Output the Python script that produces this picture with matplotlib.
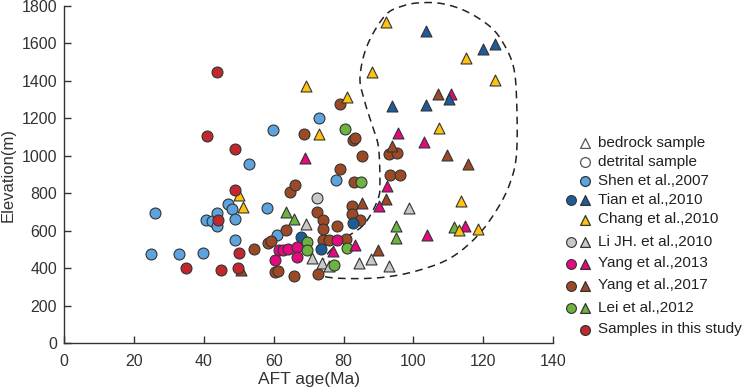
import numpy as np
import matplotlib
matplotlib.use("Agg")
import matplotlib.pyplot as plt

plt.rcParams['font.family'] = ['Liberation Sans', 'DejaVu Sans']

# ---- data (AFT age in Ma, elevation in m) ----
shen_x = [24.8, 25.9, 32.9, 39.9, 40.7, 42.3, 43.9, 43.9, 46.8, 48.1, 48.9, 48.9, 53.0, 58.0, 59.9, 60.9, 72.9, 77.9]
shen_y = [474, 693, 474, 483, 657, 654, 693, 627, 742, 717, 663, 553, 955, 720, 1135, 577, 1203, 869]

tian_cx = [67.7, 73.5, 82.8]
tian_cy = [567, 505, 640]
tian_tx = [93.8, 103.7, 103.7, 110.1, 119.8, 123.4]
tian_ty = [1263, 1663, 1272, 1300, 1570, 1595]

chang_tx = [50.1, 51.3, 69.2, 73.1, 80.9, 88.0, 92.2, 107.2, 113.6, 113.1, 115.1, 118.4, 123.2]
chang_ty = [792, 727, 1372, 1114, 1313, 1448, 1712, 1149, 761, 603, 1523, 612, 1406]

li_cx = [72.5]
li_cy = [774]
li_tx = [69.1, 70.9, 73.7, 75.9, 84.4, 87.7, 93.1, 98.6]
li_ty = [638, 455, 428, 411, 430, 447, 413, 720]

yang13_cx = [60.3, 61.5, 62.7, 64.1, 66.8, 66.8, 78.0]
yang13_cy = [445, 496, 499, 501, 515, 460, 550]
yang13_tx = [68.9, 76.9, 83.2, 90.2, 92.5, 95.6, 102.9, 103.8, 110.8, 114.7]
yang13_ty = [986, 492, 523, 734, 840, 1119, 1074, 575, 1331, 625]

yang17_cx = [54.4, 58.4, 59.1, 60.3, 61.1, 63.6, 64.8, 65.8, 66.2, 68.8, 72.5, 72.7, 74.0, 74.2, 74.0, 75.7,
             78.2, 79.1, 79.1, 80.7, 82.3, 82.4, 83.0, 82.8, 83.3, 84.7, 85.3, 92.9, 93.2, 95.4, 96.1]
yang17_cy = [504, 537, 543, 379, 388, 603, 806, 361, 843, 1115, 702, 368, 657, 611, 553, 553,
             628, 930, 1275, 556, 731, 687, 858, 1083, 1094, 659, 1000, 1008, 900, 1013, 900]
yang17_tx = [50.6, 85.3, 89.8, 92.2, 93.8, 107.1, 109.5, 115.7]
yang17_ty = [390, 749, 496, 769, 1053, 1329, 1004, 954]

lei_cx = [69.6, 69.6, 77.2, 80.3, 81.1, 85.1]
lei_cy = [538, 500, 417, 1142, 507, 858]
lei_tx = [63.5, 65.9, 95.1, 95.1, 111.6]
lei_ty = [702, 664, 625, 562, 621]

study_x = [34.9, 40.9, 43.9, 44.1, 44.9, 48.8, 48.9, 49.9, 50.1]
study_y = [400, 1104, 1448, 657, 390, 817, 1034, 399, 483]

# outline of the dashed envelope (clockwise from lower left)
env_x = [74.7, 81.8, 91.4, 100.9, 110.4, 118.1, 123.8, 127.6, 129.5, 129.5, 128.6, 125.7, 121.9, 115.2,
         108.5, 102.3, 97.2, 92.0, 86.8, 84.7, 85.8, 88.2, 90.0, 90.4, 89.9, 87.7, 85.2, 81.8, 77.5, 74.0, 73.2]
env_y = [355, 345, 352, 386, 453, 569, 711, 853, 1013, 1300, 1475, 1600, 1689, 1769,
         1810, 1816, 1800, 1750, 1590, 1422, 1304, 1160, 1043, 844, 773, 684, 622, 578, 520, 440, 380]

# colours
c_shen = '#5DA3DD'
c_tian = '#1D5C99'
c_chang = '#FFC20E'
c_li = '#C8C8C8'
c_y13 = '#E5097F'
c_y17 = '#9C4A26'
c_lei = '#6DB33F'
c_study = '#C1272D'
edge = '#333333'


def smooth_closed(xs, ys, n=16):
    # closed Catmull-Rom curve through the outline points
    p = np.column_stack([xs, ys]).astype(float)
    m = len(p)
    out = []
    t = np.linspace(0, 1, n, endpoint=False)[:, None]
    for i in range(m):
        p0, p1, p2, p3 = p[(i - 1) % m], p[i], p[(i + 1) % m], p[(i + 2) % m]
        seg = 0.5 * ((2 * p1) + (-p0 + p2) * t + (2 * p0 - 5 * p1 + 4 * p2 - p3) * t ** 2
                     + (-p0 + 3 * p1 - 3 * p2 + p3) * t ** 3)
        out.append(seg)
    out.append(p[:1])
    out = np.vstack(out)
    return out[:, 0], out[:, 1]


fig = plt.figure(figsize=(7.54, 3.90), dpi=100)
ax = fig.add_axes([0.0849, 0.1197, 0.6489, 0.8657])

S = 62
kw = dict(s=S, edgecolors=edge, linewidths=0.8, zorder=3)

ax.scatter(shen_x, shen_y, c=c_shen, marker='o', **kw)
ax.scatter(yang17_cx, yang17_cy, c=c_y17, marker='o', **kw)
ax.scatter(yang17_tx, yang17_ty, c=c_y17, marker='^', **kw)
ax.scatter(li_tx, li_ty, c=c_li, marker='^', **kw)
ax.scatter(li_cx, li_cy, c=c_li, marker='o', **kw)
ax.scatter(tian_cx, tian_cy, c=c_tian, marker='o', **kw)
ax.scatter(yang13_cx, yang13_cy, c=c_y13, marker='o', **kw)
ax.scatter(lei_cx, lei_cy, c=c_lei, marker='o', **kw)
ax.scatter(lei_tx, lei_ty, c=c_lei, marker='^', **kw)
ax.scatter(yang13_tx, yang13_ty, c=c_y13, marker='^', **kw)
ax.scatter(tian_tx, tian_ty, c=c_tian, marker='^', **kw)
ax.scatter(chang_tx, chang_ty, c=c_chang, marker='^', **kw)
ax.scatter(study_x, study_y, c=c_study, marker='o', **kw)

ex, ey = smooth_closed(env_x, env_y)
ax.plot(ex, ey, color='#222222', lw=1.1, linestyle=(0, (5, 3.5)), clip_on=False, zorder=2)

ax.set_xlim(0, 140)
ax.set_ylim(0, 1800)
ax.set_xticks(np.arange(0, 141, 20))
ax.set_yticks(np.arange(0, 1801, 200))
for side in ['top', 'right']:
    ax.spines[side].set_visible(False)
for side in ['left', 'bottom']:
    ax.spines[side].set_color('#333333')
    ax.spines[side].set_linewidth(1.0)
ax.tick_params(direction='in', length=5, width=1.0, colors='#333333', labelsize=11.5,
               labelcolor='#333333')
ax.tick_params(axis='x', pad=8)
ax.tick_params(axis='y', pad=5)
ax.set_xlabel('AFT age(Ma)', fontsize=12.5, color='#333333', labelpad=2)
ax.set_ylabel('Elevation(m)', fontsize=12, color='#333333', labelpad=4)

# ---- hand-made legend in pixel coordinates ----
lax = fig.add_axes([0, 0, 1, 1])
lax.set_xlim(0, 754)
lax.set_ylim(390, 0)
lax.axis('off')
lax.patch.set_alpha(0)

rows = [
    ('bedrock sample', None, ('^', 'white')),
    ('detrital sample', None, ('o', 'white')),
    ('Shen et al.,2007', None, ('o', c_shen)),
    ('Tian et al.,2010', c_tian, ('^', c_tian)),
    ('Chang et al.,2010', None, ('^', c_chang)),
    ('Li JH. et al.,2010', c_li, ('^', c_li)),
    ('Yang et al.,2013', c_y13, ('^', c_y13)),
    ('Yang et al.,2017', c_y17, ('^', c_y17)),
    ('Lei et al.,2012', c_lei, ('^', c_lei)),
    ('Samples in this study', None, ('o', c_study)),
]
row_y = [143, 162, 181, 200, 219.5, 241.5, 263.5, 285.5, 307.5, 329.5]
for (label, left_c, (mk, mc)), yy in zip(rows, row_y):
    ec = '#555555' if mc == 'white' else edge
    if left_c is not None:
        lax.scatter([571], [yy], s=50, c=left_c, marker='o', edgecolors=edge, linewidths=0.8)
    lax.scatter([585], [yy], s=50, c=mc, marker=mk, edgecolors=ec, linewidths=0.9)
    lax.text(598, yy, label, fontsize=11, color='#222222', va='center', ha='left')

fig.savefig('out.png', dpi=100)
